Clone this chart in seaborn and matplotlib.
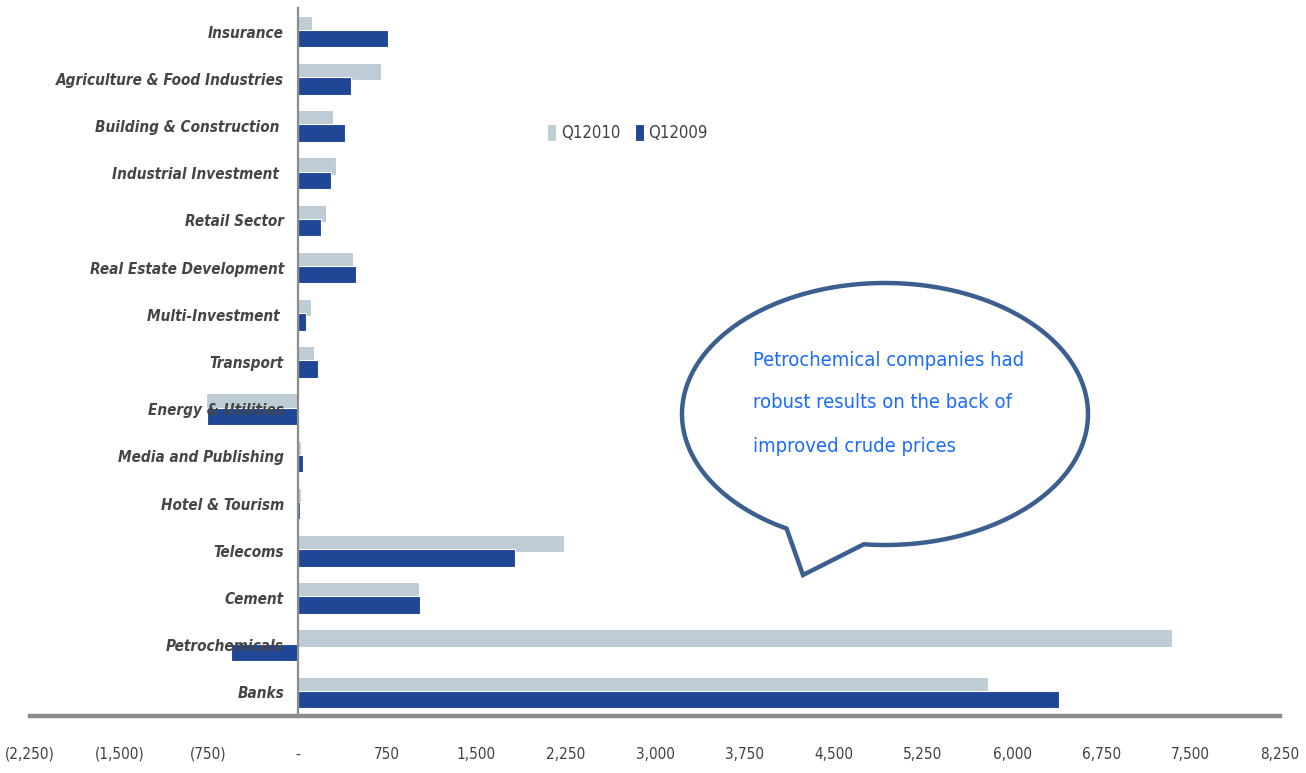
import matplotlib
matplotlib.use("Agg")
import matplotlib.pyplot as plt
import matplotlib.ticker as mticker
from matplotlib.patches import Polygon
import numpy as np
import pandas as pd
import seaborn as sns

# Sector net income, Q1 2010 vs Q1 2009 (SAR mn)
sectors = [
    "Insurance",
    "Agriculture & Food Industries",
    "Building & Construction ",
    "Industrial Investment ",
    "Retail Sector",
    "Real Estate Development",
    "Multi-Investment ",
    "Transport",
    "Energy & Utilities",
    "Media and Publishing",
    "Hotel & Tourism",
    "Telecoms",
    "Cement",
    "Petrochemicals",
    "Banks",
]
q1_2010 = [120, 700, 295, 320, 235, 460, 110, 135, -770, 25, 30, 2235, 1015, 7345, 5800]
q1_2009 = [760, 445, 395, 275, 195, 485, 65, 170, -765, 40, 20, 1825, 1025, -565, 6395]
series_names = ["Q12010", "Q12009"]
series_colors = ["#BDCCD5", "#1F4796"]

x_ticks = [-2250, -1500, -750, 0, 750, 1500, 2250, 3000, 3750, 4500, 5250, 6000, 6750, 7500, 8250]
callout_lines = [
    "Petrochemical companies had",
    "robust results on the back of",
    "improved crude prices",
]

df = pd.DataFrame({
    "Sector": sectors * 2,
    "Period": [series_names[0]] * len(sectors) + [series_names[1]] * len(sectors),
    "Value": q1_2010 + q1_2009,
})

sns.set_theme(style="white")
plt.rcParams["font.family"] = ["DejaVu Sans"]
plt.rcParams["font.stretch"] = "condensed"

fig = plt.figure(figsize=(13.06, 7.73), dpi=100)
ax = fig.add_axes([30 / 1306, 1 - 716 / 773, 1250 / 1306, 708 / 773])

sns.barplot(
    data=df, y="Sector", x="Value", hue="Period", orient="h",
    hue_order=series_names, palette=series_colors, width=0.6,
    linewidth=0.8, edgecolor="white", saturation=1, errorbar=None, ax=ax,
)

# Slightly taller bars so the two periods overlap a little
for p in ax.patches:
    h = p.get_height()
    if h > 0:
        c = p.get_y() + h / 2
        p.set_height(0.37)
        p.set_y(c - 0.185)

ax.set_xlim(-2250, 8250)
ax.set_ylim(len(sectors) - 0.5, -0.5)
ax.set_xlabel("")
ax.set_ylabel("")

for s in ["top", "right"]:
    ax.spines[s].set_visible(False)
ax.spines["left"].set_position(("data", 0))
ax.spines["left"].set_color("#8C8C8C")
ax.spines["left"].set_linewidth(1.6)
ax.spines["bottom"].set_color("#8C8C8C")
ax.spines["bottom"].set_linewidth(3.2)


def fmt(v, pos):
    if abs(v) < 1e-9:
        return "-"
    if v < 0:
        return f"({abs(v):,.0f})"
    return f"{v:,.0f}"


ax.set_xticks(x_ticks)
ax.xaxis.set_major_formatter(mticker.FuncFormatter(fmt))
ax.set_yticks(range(len(sectors)))
ax.set_yticklabels(sectors, fontweight="bold", fontstyle="italic",
                   fontstretch="condensed")
ax.tick_params(axis="x", length=0, pad=22, labelsize=11, labelcolor="#404040")
ax.tick_params(axis="y", length=0, pad=10, labelsize=11, labelcolor="#454545")
# Category names sit on top of the negative bars
ax.set_axisbelow(False)
ax.yaxis.set_zorder(5)

leg = ax.legend(
    loc="center", bbox_to_anchor=(0.478, 0.823), ncol=2, frameon=False,
    handlelength=0.55, handleheight=1.2, handletextpad=0.25, columnspacing=0.9,
    fontsize=12, labelcolor="#404040",
)

# Speech-bubble callout on a full-figure overlay in pixel units
ov = fig.add_axes([0, 0, 1, 1], zorder=10)
ov.set_xlim(0, 1306)
ov.set_ylim(773, 0)
ov.axis("off")
ov.patch.set_alpha(0)

cx, cy, a, b = 885, 414, 203, 131
t = np.radians(np.linspace(119, 456, 300))
pts = np.column_stack([cx + a * np.cos(t), cy + b * np.sin(t)])
pts = np.vstack([pts, [[803, 575]]])
bubble = Polygon(pts, closed=True, facecolor="white", edgecolor="#3B5F8F",
                 linewidth=3.2, joinstyle="miter")
ov.add_patch(bubble)

ov.text(753, 403, "\n".join(callout_lines), ha="left", va="center",
        fontsize=14.5, color="#1A6BFF", linespacing=2.6,
        fontstretch="condensed")

fig.savefig("out.png", dpi=100)
